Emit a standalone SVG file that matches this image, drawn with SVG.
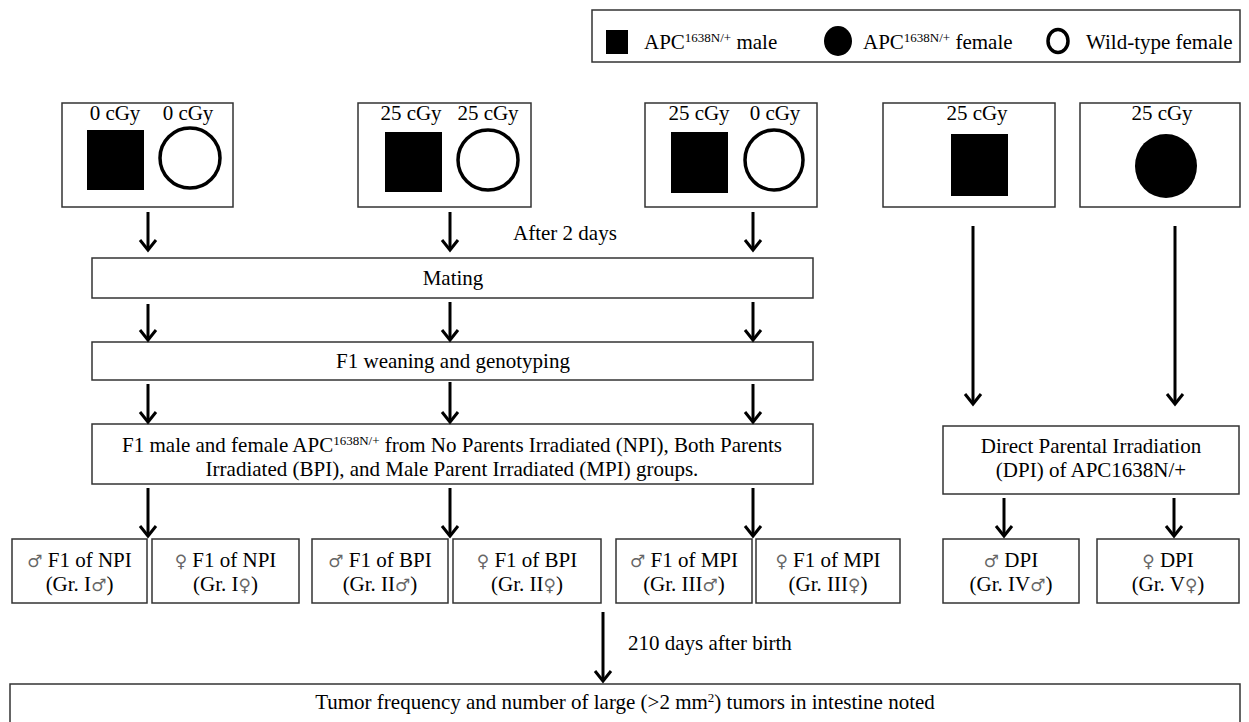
<svg xmlns="http://www.w3.org/2000/svg" width="1249" height="722" viewBox="0 0 1249 722">
<style>
  .box{fill:#fff;stroke:#333;stroke-width:1.5}
  .t{font-family:"Liberation Serif","Times New Roman",serif;font-size:21px;fill:#000}
  .c{text-anchor:middle}
  .sup{font-size:13px}
  .sym{font-family:"DejaVu Sans",sans-serif;font-size:17px;fill:#666}
  .arr{stroke:#000;stroke-width:3;fill:none;marker-end:url(#ah)}
  .sq{fill:#000}
  .oc{fill:#fff;stroke:#000;stroke-width:3.5}
</style>
<defs>
  <marker id="ah" markerUnits="userSpaceOnUse" orient="auto" refX="0" refY="0" markerWidth="30" markerHeight="30" viewBox="-15 -15 30 30" style="overflow:visible">
    <path d="M-10,-8 L0,0 L-10,8" fill="none" stroke="#000" stroke-width="3"/>
  </marker>
</defs>
<rect width="1249" height="722" fill="#fff"/>

<g id="legend">
  <rect class="box" x="592" y="10" width="648" height="52"/>
  <rect class="sq" x="606" y="30" width="22" height="24"/>
  <text class="t" x="644" y="49">APC<tspan class="sup" dy="-7">1638N/+</tspan><tspan dy="7"> male</tspan></text>
  <ellipse cx="838" cy="41" rx="14" ry="15" fill="#000"/>
  <text class="t" x="863" y="49">APC<tspan class="sup" dy="-7">1638N/+</tspan><tspan dy="7"> female</tspan></text>
  <ellipse class="oc" cx="1058" cy="41" rx="10" ry="11.5"/>
  <text class="t" x="1086" y="49">Wild-type female</text>
</g>

<g id="npi-parents">
  <rect class="box" x="62" y="103" width="171" height="104"/>
  <text class="t c" x="115" y="120">0 cGy</text>
  <text class="t c" x="188" y="120">0 cGy</text>
  <rect class="sq" x="87" y="130" width="57" height="60"/>
  <circle class="oc" cx="190" cy="158" r="30"/>
</g>

<g id="bpi-parents">
  <rect class="box" x="358" y="103" width="173" height="104"/>
  <text class="t c" x="411" y="120">25 cGy</text>
  <text class="t c" x="488" y="120">25 cGy</text>
  <rect class="sq" x="385" y="132" width="57" height="60"/>
  <circle class="oc" cx="488" cy="160" r="30"/>
</g>

<g id="mpi-parents">
  <rect class="box" x="645" y="103" width="172" height="104"/>
  <text class="t c" x="699" y="120">25 cGy</text>
  <text class="t c" x="775" y="120">0 cGy</text>
  <rect class="sq" x="671" y="132" width="57" height="61"/>
  <ellipse class="oc" cx="774" cy="160" rx="29" ry="30"/>
</g>

<g id="dpi-male-parent">
  <rect class="box" x="883" y="103" width="172" height="104"/>
  <text class="t c" x="977" y="120">25 cGy</text>
  <rect class="sq" x="951" y="134" width="57" height="62"/>
</g>

<g id="dpi-female-parent">
  <rect class="box" x="1080" y="103" width="160" height="104"/>
  <text class="t c" x="1162" y="120">25 cGy</text>
  <ellipse cx="1166" cy="166" rx="31" ry="32" fill="#000"/>
</g>

<g id="mating">
  <rect class="box" x="92" y="258" width="721" height="40"/>
  <text class="t c" x="453" y="285">Mating</text>
</g>

<g id="weaning">
  <rect class="box" x="92" y="342" width="721" height="38"/>
  <text class="t c" x="453" y="368">F1 weaning and genotyping</text>
</g>

<g id="f1-groups">
  <rect class="box" x="92" y="424" width="721" height="60"/>
  <text class="t c" x="452" y="452">F1 male and female APC<tspan class="sup" dy="-7">1638N/+</tspan><tspan dy="7"> from No Parents Irradiated (NPI), Both Parents</tspan></text>
  <text class="t c" x="452" y="476">Irradiated (BPI), and Male Parent Irradiated (MPI) groups.</text>
</g>

<g id="dpi">
  <rect class="box" x="943" y="426" width="296" height="68"/>
  <text class="t c" x="1091" y="453">Direct Parental Irradiation</text>
  <text class="t c" x="1091" y="477">(DPI) of APC1638N/+</text>
</g>

<g id="gr1m">
  <rect class="box" x="12" y="539" width="135" height="64"/>
  <text class="t c" x="79.5" y="567"><tspan class="sym">♂</tspan> F1 of NPI</text>
  <text class="t c" x="79.5" y="591">(Gr. I<tspan class="sym">♂</tspan>)</text>
</g>
<g id="gr1f">
  <rect class="box" x="152" y="539" width="147" height="64"/>
  <text class="t c" x="225.5" y="567"><tspan class="sym">♀</tspan> F1 of NPI</text>
  <text class="t c" x="225.5" y="591">(Gr. I<tspan class="sym">♀</tspan>)</text>
</g>
<g id="gr2m">
  <rect class="box" x="312" y="539" width="136" height="64"/>
  <text class="t c" x="380" y="567"><tspan class="sym">♂</tspan> F1 of BPI</text>
  <text class="t c" x="380" y="591">(Gr. II<tspan class="sym">♂</tspan>)</text>
</g>
<g id="gr2f">
  <rect class="box" x="453" y="539" width="148" height="64"/>
  <text class="t c" x="527" y="567"><tspan class="sym">♀</tspan> F1 of BPI</text>
  <text class="t c" x="527" y="591">(Gr. II<tspan class="sym">♀</tspan>)</text>
</g>
<g id="gr3m">
  <rect class="box" x="616" y="539" width="136" height="64"/>
  <text class="t c" x="684" y="567"><tspan class="sym">♂</tspan> F1 of MPI</text>
  <text class="t c" x="684" y="591">(Gr. III<tspan class="sym">♂</tspan>)</text>
</g>
<g id="gr3f">
  <rect class="box" x="756" y="539" width="144" height="64"/>
  <text class="t c" x="828" y="567"><tspan class="sym">♀</tspan> F1 of MPI</text>
  <text class="t c" x="828" y="591">(Gr. III<tspan class="sym">♀</tspan>)</text>
</g>
<g id="gr4m">
  <rect class="box" x="943" y="539" width="136" height="64"/>
  <text class="t c" x="1011" y="567"><tspan class="sym">♂</tspan> DPI</text>
  <text class="t c" x="1011" y="591">(Gr. IV<tspan class="sym">♂</tspan>)</text>
</g>
<g id="gr5f">
  <rect class="box" x="1097" y="539" width="142" height="64"/>
  <text class="t c" x="1168" y="567"><tspan class="sym">♀</tspan> DPI</text>
  <text class="t c" x="1168" y="591">(Gr. V<tspan class="sym">♀</tspan>)</text>
</g>

<g id="outcome">
  <rect class="box" x="10" y="684" width="1230" height="60"/>
  <text class="t c" x="625" y="709">Tumor frequency and number of large (&gt;2 mm<tspan class="sup" dy="-7">2</tspan><tspan dy="7">) tumors in intestine noted</tspan></text>
</g>

<g id="connectors">
  <path class="arr" d="M148,212 V250"/>
  <path class="arr" d="M450,212 V250"/>
  <path class="arr" d="M753,212 V250"/>
  <path class="arr" d="M148,304 V340"/>
  <path class="arr" d="M450,302 V340"/>
  <path class="arr" d="M753,302 V340"/>
  <path class="arr" d="M148,384 V422"/>
  <path class="arr" d="M450,382 V422"/>
  <path class="arr" d="M753,384 V422"/>
  <path class="arr" d="M148,488 V536"/>
  <path class="arr" d="M450,488 V536"/>
  <path class="arr" d="M753,488 V536"/>
  <path class="arr" d="M973,226 V404"/>
  <path class="arr" d="M1175,226 V404"/>
  <path class="arr" d="M1004,498 V536"/>
  <path class="arr" d="M1174,498 V536"/>
  <path class="arr" d="M603,612 V681"/>
  <text class="t" x="513" y="240">After 2 days</text>
  <text class="t" x="628" y="650">210 days after birth</text>
</g>
</svg>
